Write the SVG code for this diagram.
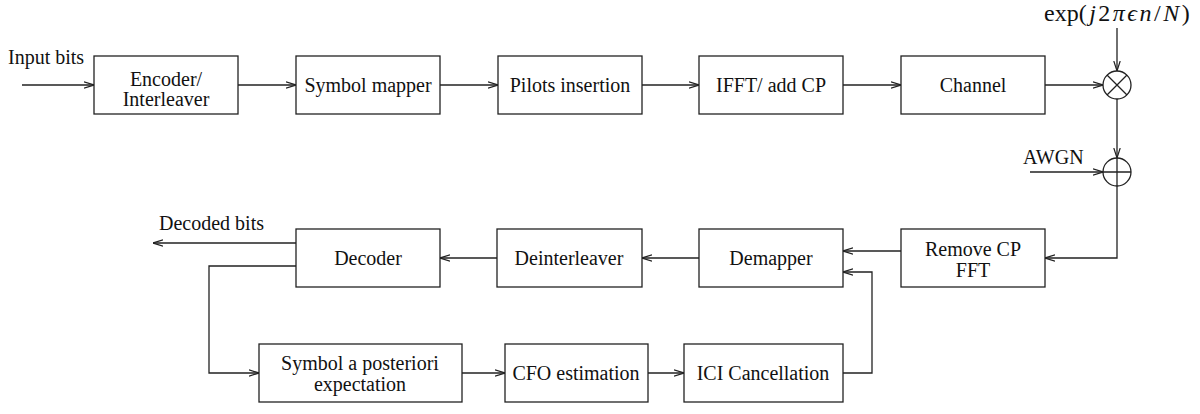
<svg xmlns="http://www.w3.org/2000/svg" width="1200" height="414" viewBox="0 0 1200 414">
<style>
.box{fill:#fff;stroke:#222;stroke-width:1.3}
.ln{fill:none;stroke:#222;stroke-width:1.3}
.arr{fill:none;stroke:#222;stroke-width:1.3;marker-end:url(#ah)}
text{font-family:"Liberation Serif","Times New Roman",serif;font-size:20px;fill:#111}
.c{text-anchor:middle}
.m{font-size:24px}
.sp{letter-spacing:2.5px}
</style>
<defs>
<marker id="ah" viewBox="0 0 10 8" refX="10" refY="4" markerWidth="10" markerHeight="8" markerUnits="userSpaceOnUse" orient="auto">
<polyline points="0,0.8 10,4 0,7.2" fill="none" stroke="#222" stroke-width="1.2"/>
</marker>
</defs>
<rect width="1200" height="414" fill="#fff"/>
<g id="connectors">
<line class="arr" x1="22" y1="85" x2="94" y2="85"/>
<line class="arr" x1="238" y1="85" x2="296" y2="85"/>
<line class="arr" x1="440" y1="85" x2="498" y2="85"/>
<line class="arr" x1="642" y1="85" x2="699" y2="85"/>
<line class="arr" x1="843" y1="85" x2="901" y2="85"/>
<line class="arr" x1="1045" y1="85" x2="1103" y2="85"/>
<line class="arr" x1="1117" y1="28" x2="1117" y2="71"/>
<line class="arr" x1="1117" y1="99" x2="1117" y2="158"/>
<line class="arr" x1="1030" y1="172" x2="1103" y2="172"/>
<polyline class="arr" points="1117,186 1117,258 1045,258"/>
<line class="arr" x1="901" y1="251" x2="843" y2="251"/>
<line class="arr" x1="699" y1="258" x2="642" y2="258"/>
<line class="arr" x1="497" y1="258" x2="440" y2="258"/>
<line class="arr" x1="296" y1="243" x2="153" y2="243"/>
<polyline class="arr" points="296,266 209,266 209,373 259,373"/>
<line class="arr" x1="462" y1="373" x2="505" y2="373"/>
<line class="arr" x1="648" y1="373" x2="684" y2="373"/>
<polyline class="arr" points="843,373 872,373 872,272 843,272"/>
</g>
<g id="input-label"><text x="8" y="64">Input bits</text></g>
<g id="encoder"><rect class="box" x="94" y="56" width="144" height="58"/><text class="c" x="166" y="86">Encoder/</text><text class="c" x="166" y="106">Interleaver</text></g>
<g id="symbol-mapper"><rect class="box" x="296" y="56" width="144" height="58"/><text class="c" x="368" y="92">Symbol mapper</text></g>
<g id="pilots"><rect class="box" x="498" y="56" width="144" height="58"/><text class="c" x="570" y="92">Pilots insertion</text></g>
<g id="ifft"><rect class="box" x="699" y="56" width="144" height="58"/><text class="c" x="771" y="92">IFFT/ add CP</text></g>
<g id="channel"><rect class="box" x="901" y="56" width="144" height="58"/><text class="c" x="973" y="92">Channel</text></g>
<g id="exp-label"><text class="m" x="1044" y="21">exp<tspan class="sp">(<tspan font-style="italic">j</tspan>2<tspan font-style="italic">πϵn</tspan>/<tspan font-style="italic">N</tspan>)</tspan></text></g>
<g id="multiplier"><circle class="box" cx="1117" cy="85" r="14"/><path class="ln" d="M1107,75 L1127,95 M1127,75 L1107,95"/></g>
<g id="awgn-label"><text x="1023" y="164">AWGN</text></g>
<g id="adder"><circle class="box" cx="1117" cy="172" r="14"/><path class="ln" d="M1103,172 H1131 M1117,158 V186"/></g>
<g id="remove-cp"><rect class="box" x="901" y="229" width="144" height="58"/><text class="c" x="973" y="256">Remove CP</text><text class="c" x="973" y="277">FFT</text></g>
<g id="demapper"><rect class="box" x="699" y="229" width="144" height="58"/><text class="c" x="771" y="265">Demapper</text></g>
<g id="deinterleaver"><rect class="box" x="497" y="229" width="145" height="58"/><text class="c" x="569" y="265">Deinterleaver</text></g>
<g id="decoder"><rect class="box" x="296" y="229" width="144" height="58"/><text class="c" x="368" y="265">Decoder</text></g>
<g id="decoded-label"><text x="159" y="230">Decoded bits</text></g>
<g id="symbol-app"><rect class="box" x="259" y="344" width="203" height="58"/><text class="c" x="360" y="370">Symbol a posteriori</text><text class="c" x="360" y="391">expectation</text></g>
<g id="cfo"><rect class="box" x="505" y="344" width="143" height="58"/><text class="c" x="576" y="380">CFO estimation</text></g>
<g id="ici"><rect class="box" x="684" y="344" width="159" height="58"/><text class="c" x="763" y="380">ICI Cancellation</text></g>
</svg>
